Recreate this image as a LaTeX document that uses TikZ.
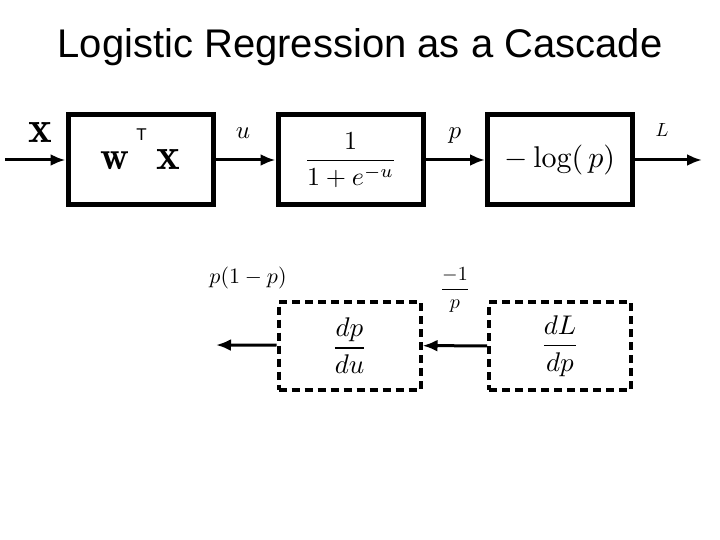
\documentclass[tikz,border=0pt]{standalone}
\usepackage{graphicx}
\usepackage{fontspec}
\newfontfamily\titlefont{Liberation Sans}
\usetikzlibrary{positioning}
\usetikzlibrary{arrows.meta}
\newcommand{\mth}[2]{\scalebox{#1}{$\displaystyle #2$}}
\tikzset{
    block/.style = {rectangle, draw=black, line width=5pt, minimum width=145pt, minimum height=90pt, inner sep=0pt},
    dblock/.style = {rectangle, draw=black, line width=4pt, dash pattern=on 8pt off 5pt, minimum width=142pt, minimum height=88pt, inner sep=0pt},
    lbl/.style = {inner sep=0pt},
    edgen/.style = {-{Latex[length=15pt,width=12pt]}, line width=3pt}, % forward
    edgeb/.style = {-{Latex[length=15pt,width=12pt]}, line width=3pt}  % backward
}
\begin{document}
\begin{tikzpicture}[x=1pt,y=-1pt]
\useasboundingbox (0,0) rectangle (720,540);
%
\node (title) at (360,47) {\titlefont\fontsize{40}{44}\selectfont Logistic Regression as a Cascade};
%
\node[block] at (140.5,160) (lin) {\raisebox{-4pt}{\mth{4.0}{\mathbf{w}}\hspace{7pt}\smash{\raisebox{29pt}{\titlefont\fontsize{17}{20}\selectfont T}}\hspace{10pt}\mth{4.5}{\mathbf{x}}}};
\node[block] at (350.5,160) (sig) {\mth{2.6}{\frac{1}{1+e^{-u}}}};
\node[block] at (560,160) (loss) {\mth{3.0}{-\log(\,p)}};
%
\coordinate (in) at (5,160);
\coordinate (out) at (702,160);
%
\draw[edgen] (in) -- (lin);
\draw[edgen] (lin) -- (sig);
\draw[edgen] (sig) -- (loss);
\draw[edgen] (loss) -- (out);
%
\node[lbl] at (40,133) (lx) {\mth{4.5}{\mathbf{x}}};
\node[lbl] at (243,133) (lu) {\mth{2.5}{u}};
\node[lbl] at (455,136) (lp) {\mth{2.5}{p}};
\node[lbl] at (662,130) (lL) {\mth{1.9}{L}};
%
\node[dblock] at (349.5,345.5) (dpdu) {\mth{2.7}{\frac{dp}{du}}};
\node[dblock] at (560,346) (dLdp) {\mth{2.7}{\frac{dL}{dp}}};
%
\coordinate (back) at (216,345);
%
\draw[edgeb] (dLdp) -- (dpdu);
\draw[edgeb] (dpdu) -- (back);
%
\node[lbl] at (248,278) (lg1) {\mth{2.2}{p(1-p)}};
\node[lbl] at (455,290) (lg2) {\mth{2.0}{\frac{-1}{p}}};

\end{tikzpicture}
\end{document}
